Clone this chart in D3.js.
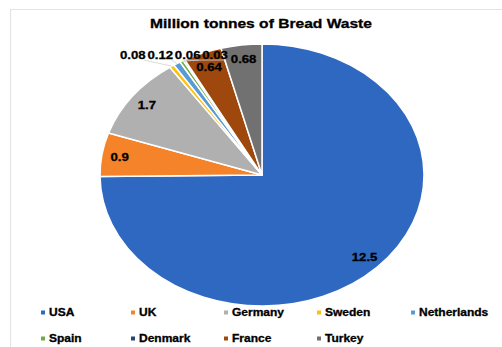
<!DOCTYPE html>
<html>
<head>
<meta charset="utf-8">
<script src="https://cdn.jsdelivr.net/npm/d3@7"></script>
<style>
  body { margin: 0; background: #fff; }
  text { font-family: "Liberation Sans", Arial, sans-serif; font-weight: bold; fill: #000; stroke: #000; stroke-width: 0.3; }
</style>
</head>
<body>
<script>
// data
const countries = ["USA", "UK", "Germany", "Sweden", "Netherlands", "Spain", "Denmark", "France", "Turkey"];
const wasteValues = [12.5, 0.9, 1.7, 0.08, 0.12, 0.06, 0.03, 0.64, 0.68];
const sliceColors = ["#2f68c0", "#f4832a", "#b0b0b0", "#fcc010", "#5b9bd5", "#70ad47", "#264478", "#9e480e", "#717171"];
const titleText = "Million tonnes of Bread Waste";

const W = 502, H = 347;
const center = { x: 262, y: 175 };
const rx = 162, ry = 131;
const sx = 1.2; // the whole picture is stretched horizontally

const svg = d3.select("body").append("svg").attr("width", W).attr("height", H);

// light frame at top and left
svg.append("line").attr("x1", 10).attr("x2", W).attr("y1", 9.5).attr("y2", 9.5)
  .attr("stroke", "#e4e4e4").attr("stroke-width", 1.2);
svg.append("line").attr("x1", 10.5).attr("x2", 10.5).attr("y1", 9).attr("y2", H)
  .attr("stroke", "#e4e4e4").attr("stroke-width", 1.2);

// stretched text helper
const addText = (x, y, str, size, anchor) =>
  svg.append("text")
    .attr("transform", `translate(${x},${y}) scale(${sx},1)`)
    .attr("text-anchor", anchor || "middle")
    .attr("font-size", size)
    .text(str);

addText(W / 2 + 10, 28, titleText, 13);

const items = countries.map((c, i) => ({ name: c, value: wasteValues[i], color: sliceColors[i] }));
const pie = d3.pie().value((d) => d.value).sort(null);
const arcs = pie(items);

const arc = d3.arc().innerRadius(0).outerRadius(ry);
const labelArc = d3.arc().innerRadius(ry * 0.89).outerRadius(ry * 0.89);

// pie drawn as a circle then stretched to the ellipse
const g = svg.append("g")
  .attr("transform", `translate(${center.x},${center.y}) scale(${rx / ry},1)`);
g.selectAll("path")
  .data(arcs)
  .enter()
  .append("path")
  .attr("d", arc)
  .attr("fill", (d) => d.data.color)
  .attr("stroke", "#fff")
  .attr("stroke-width", 1.5)
  .attr("vector-effect", "non-scaling-stroke")
  .attr("stroke-linejoin", "round");

const toScreen = ([x, y]) => [center.x + x * rx / ry, center.y + y];

// inside labels for large slices, outside row for tiny ones
const small = arcs.filter((d) => d.endAngle - d.startAngle < 0.06);
const big = arcs.filter((d) => d.endAngle - d.startAngle >= 0.06);

big.forEach((d) => {
  const [x, y] = toScreen(labelArc.centroid(d));
  addText(x, y + 4, String(d.data.value), 11);
});

const rowY = 59;
let cursor = 120;
small.forEach((d) => {
  const t = addText(cursor, rowY, String(d.data.value), 11, "start");
  const w = t.node().getBBox().width * sx;
  const mid = (d.startAngle + d.endAngle) / 2;
  const ex = center.x + Math.sin(mid) * rx;
  const ey = center.y - Math.cos(mid) * ry;
  svg.append("line")
    .attr("x1", cursor + w - 2).attr("y1", rowY + 1)
    .attr("x2", ex).attr("y2", ey)
    .attr("stroke", "#d0d0d0").attr("stroke-width", 0.8);
  cursor += w + 1.5;
});

// legend
const legendCols = [41, 131, 224, 317, 411];
const legendRows = [316, 342];
items.forEach((d, i) => {
  const col = i < 5 ? i : i - 5;
  const row = i < 5 ? 0 : 1;
  const x = legendCols[col], y = legendRows[row];
  svg.append("rect").attr("x", x).attr("y", y - 5.5).attr("width", 4).attr("height", 4).attr("fill", d.color);
  addText(x + 8, y, d.name, 10, "start");
});
</script>
</body>
</html>
